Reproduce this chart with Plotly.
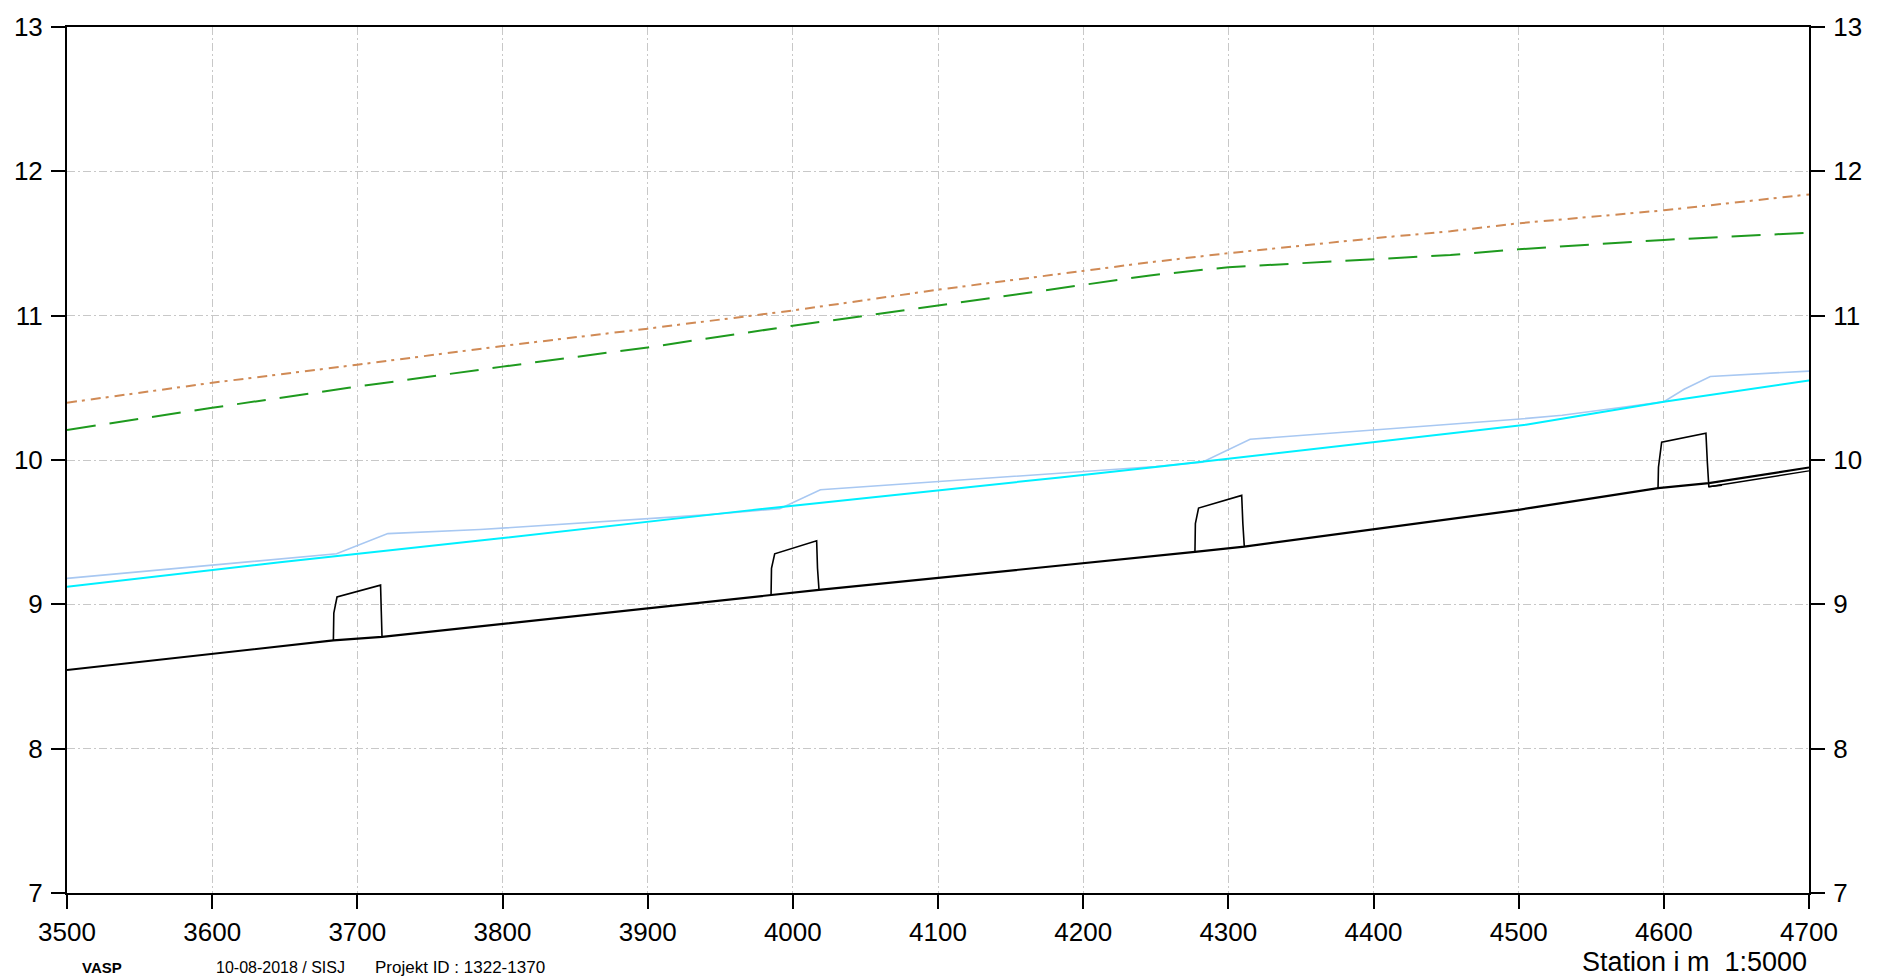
import plotly.graph_objects as go

# ---------------- data ----------------
# Orange dash-dot line
orange_station = [3500, 3600, 3700, 3800, 3900, 4000, 4100, 4200, 4246, 4300, 4400, 4453, 4500, 4600, 4700]
orange_level = [10.397, 10.535, 10.66, 10.79, 10.91, 11.036, 11.18, 11.31, 11.37, 11.433, 11.536, 11.585, 11.64, 11.73, 11.84]

# Green dashed line
green_station = [3500, 3600, 3694, 3800, 3900, 4000, 4100, 4200, 4246, 4300, 4400, 4453, 4500, 4600, 4700]
green_level = [10.208, 10.362, 10.50, 10.647, 10.78, 10.93, 11.07, 11.21, 11.279, 11.336, 11.393, 11.42, 11.46, 11.525, 11.575]

# Light blue water level (with rises at structures)
lightblue_station = [3500, 3646.7, 3685.7, 3721, 3784.5, 3940, 3991, 4019, 4184, 4250, 4282, 4315, 4501, 4530, 4600, 4614, 4632, 4700]
lightblue_level = [9.18, 9.318, 9.35, 9.49, 9.518, 9.62, 9.663, 9.794, 9.909, 9.955, 9.985, 10.144, 10.284, 10.31, 10.404, 10.49, 10.579, 10.616]

# Cyan line
cyan_station = [3500, 3646.7, 3784.5, 3963.6, 4184, 4253, 4505, 4600, 4700]
cyan_level = [9.122, 9.292, 9.442, 9.644, 9.879, 9.955, 10.245, 10.404, 10.551]

# Bed (black)
bed_station = [3500, 3683.5, 3717, 3985, 4018, 4277, 4311, 4500, 4596, 4631, 4700]
bed_level = [8.545, 8.75, 8.775, 9.064, 9.10, 9.363, 9.40, 9.655, 9.805, 9.84, 9.948]

# Second bed line after the last structure
bed2_station = [4631, 4700]
bed2_level = [9.815, 9.925]

# Structures (weir outlines)
weir1_station = [3683.5, 3683.8, 3686, 3716, 3716.5, 3717]
weir1_level = [8.75, 8.94, 9.051, 9.133, 8.95, 8.775]
weir2_station = [3985, 3985.3, 3987.5, 4016.4, 4017, 4018]
weir2_level = [9.064, 9.25, 9.35, 9.44, 9.25, 9.104]
weir3_station = [4277, 4277.3, 4279.5, 4309.2, 4310, 4311]
weir3_level = [9.363, 9.56, 9.667, 9.755, 9.56, 9.40]
weir4_station = [4596, 4596.3, 4598.5, 4629, 4630, 4631, 4640]
weir4_level = [9.805, 9.95, 10.123, 10.185, 9.98, 9.815, 9.826]

x_ticks = [3500, 3600, 3700, 3800, 3900, 4000, 4100, 4200, 4300, 4400, 4500, 4600, 4700]
y_ticks = [7, 8, 9, 10, 11, 12, 13]

FONT = "Liberation Sans, Arial, sans-serif"

fig = go.Figure()

fig.add_trace(go.Scatter(x=orange_station, y=orange_level, mode="lines",
                         line=dict(color="#D08A55", width=2, dash="10px,5px,3px,6px"),
                         yaxis="y2"))
fig.add_trace(go.Scatter(x=green_station, y=green_level, mode="lines",
                         line=dict(color="#1E9A1E", width=2, dash="29px,14px")))
fig.add_trace(go.Scatter(x=lightblue_station, y=lightblue_level, mode="lines",
                         line=dict(color="#A8C8F2", width=1.6)))
fig.add_trace(go.Scatter(x=cyan_station, y=cyan_level, mode="lines",
                         line=dict(color="#00F0FF", width=2)))
fig.add_trace(go.Scatter(x=bed_station, y=bed_level, mode="lines",
                         line=dict(color="black", width=2.2)))
fig.add_trace(go.Scatter(x=bed2_station, y=bed2_level, mode="lines",
                         line=dict(color="black", width=1.4)))
for wx, wy in [(weir1_station, weir1_level), (weir2_station, weir2_level),
               (weir3_station, weir3_level), (weir4_station, weir4_level)]:
    fig.add_trace(go.Scatter(x=wx, y=wy, mode="lines",
                             line=dict(color="black", width=1.6)))

axis_common = dict(
    showline=True, linecolor="black", linewidth=2,
    ticks="outside", ticklen=14, tickwidth=2, tickcolor="black",
    tickfont=dict(family=FONT, size=26, color="black"),
    zeroline=False,
)

fig.update_layout(
    width=1881, height=980,
    margin=dict(l=67, r=72, t=24, b=87),
    paper_bgcolor="white", plot_bgcolor="white",
    showlegend=False,
    xaxis=dict(range=[3500, 4700], tickvals=x_ticks, ticktext=[str(v) for v in x_ticks],
               showgrid=True, gridcolor="#C8C8C8", gridwidth=1, griddash="8px,3px,2px,3px",
               mirror=True, ticklabelstandoff=1, **axis_common),
    yaxis=dict(range=[7, 13], tickvals=y_ticks, ticktext=[str(v) for v in y_ticks],
               showgrid=True, gridcolor="#C8C8C8", gridwidth=1, griddash="8px,3px,2px,3px",
               ticklabelstandoff=3, **axis_common),
    yaxis2=dict(range=[7, 13], tickvals=y_ticks, ticktext=[str(v) for v in y_ticks],
                overlaying="y", side="right", showgrid=False,
                ticklabelstandoff=3, **axis_common),
)

fig.add_annotation(text="<b>VASP</b>", xref="paper", yref="paper", x=0.0075, y=-0.0865,
                   xanchor="left", yanchor="middle", showarrow=False,
                   font=dict(family=FONT, size=15, color="black"))
fig.add_annotation(text="10-08-2018 / SISJ", xref="paper", yref="paper",
                   x=0.0844, y=-0.0865, xanchor="left", yanchor="middle", showarrow=False,
                   font=dict(family=FONT, size=16, color="black"))
fig.add_annotation(text="Projekt ID : 1322-1370", xref="paper", yref="paper",
                   x=0.1757, y=-0.0865, xanchor="left", yanchor="middle", showarrow=False,
                   font=dict(family=FONT, size=17, color="black"))
fig.add_annotation(text="Station i m  1:5000", xref="paper", yref="paper", x=1.0, y=-0.08,
                   xanchor="right", yanchor="middle", showarrow=False,
                   font=dict(family=FONT, size=27, color="black"))

fig.write_html("out.html", config={"displayModeBar": False},
               post_script="document.body.style.margin='0';document.body.style.overflow='hidden';")
